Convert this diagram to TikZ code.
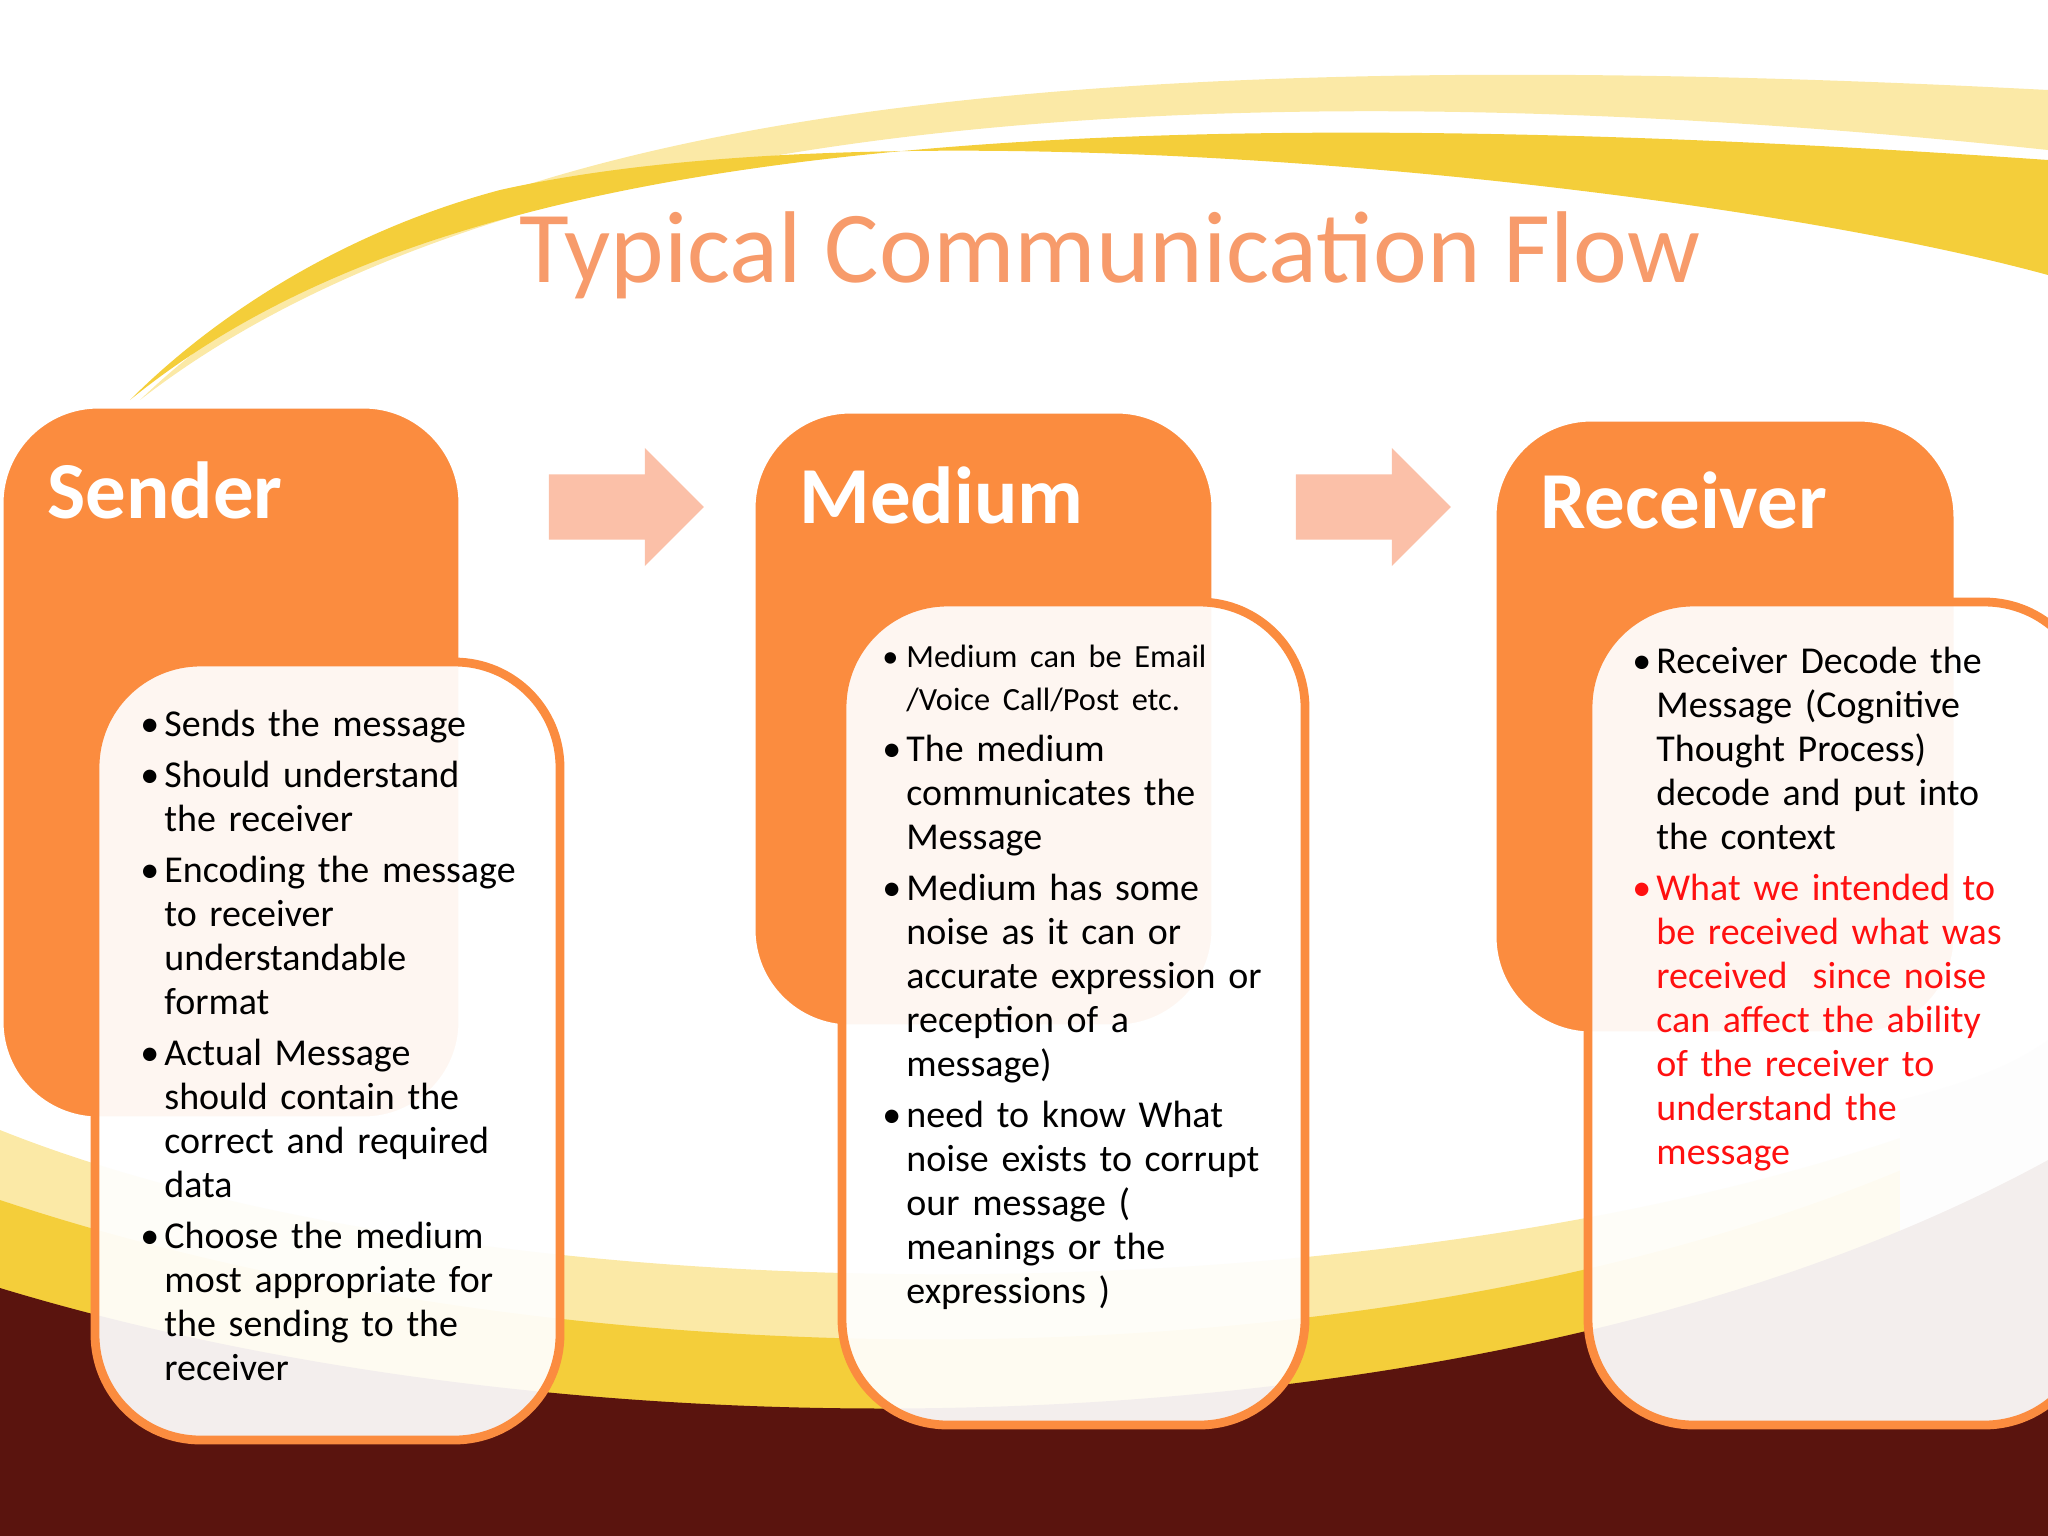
\documentclass[tikz,border=0pt]{standalone}
\usepackage{fontspec}
\setmainfont{Carlito}
\usetikzlibrary{shapes.arrows}
\definecolor{org}{HTML}{FB8C3F}
\definecolor{ttl}{HTML}{F79B6B}
\definecolor{yel}{HTML}{F4CE3A}
\definecolor{lyel}{HTML}{FBE9A6}
\definecolor{dark}{HTML}{5A140E}
\definecolor{arr}{HTML}{FBC0A8}
\definecolor{red}{HTML}{FF1010}
\tikzset{
 obox/.style={fill=org,draw=white,line width=2pt,rounded corners=28pt},
 wbox/.style={fill=white,fill opacity=0.93,draw=org,line width=2.5pt,rounded corners=30pt},
 head/.style={text=white,font=\bfseries\fontsize{23}{27}\selectfont,anchor=west},
 body/.style={anchor=north west,align=left,font=\fontsize{10.8}{12.5}\selectfont},
 parr/.style={single arrow,fill=arr,draw=none,minimum height=1.55cm,minimum width=1.18cm,single arrow head extend=0.1cm,single arrow tip angle=90}
}
\newcommand{\bl}{\hangindent=0.24cm\hangafter=1\noindent\makebox[0.24cm][l]{\textbullet}}
\newcommand{\setpar}{\raggedright\hyphenpenalty=10000\parskip=2pt}
\begin{document}
\begin{tikzpicture}[x=0.01cm,y=-0.01cm]
\useasboundingbox (0,0) rectangle (2048,1536);
% background
\fill[lyel] (140,400) .. controls (400,150) and (900,30) .. (2048,90) -- (2048,150) .. controls (1200,60) and (500,120) .. (140,400) -- cycle;
\fill[yel] (130,400) .. controls (400,180) and (900,80) .. (2048,160) -- (2048,275) .. controls (1700,180) and (900,100) .. (500,190) .. controls (350,230) and (220,310) .. (130,400) -- cycle;
\fill[lyel] (0,1130) .. controls (500,1330) and (1500,1330) .. (2048,1080) -- (2048,1536) -- (0,1536) -- cycle;
\fill[yel] (0,1200) .. controls (600,1400) and (1500,1400) .. (2048,1100) -- (2048,1536) -- (0,1536) -- cycle;
\fill[black!8] (1900,1100) .. controls (1980,1080) and (2020,1060) .. (2048,1040) -- (2048,1250) -- (1900,1250) -- cycle;
\fill[dark] (0,1288) .. controls (600,1470) and (1500,1460) .. (2048,1160) -- (2048,1536) -- (0,1536) -- cycle;
% title
\node[text=ttl,font=\fontsize{29}{34}\selectfont] (title) at (1110,255) {Typical Communication Flow};
% orange boxes
\draw[obox] (0,405) rectangle (462,1120);
\draw[obox] (752,410) rectangle (1215,1028);
\draw[obox] (1493,418) rectangle (1957,1035);
\node[head] (hs) at (35,490) {Sender};
\node[head] (hm) at (787,495) {Medium};
\node[head] (hr) at (1528,500) {Receiver};
% arrows
\node[parr] (a1) at (610,507) {};
\node[parr] (a2) at (1357,507) {};
% white boxes
\draw[wbox] (95,662) rectangle (560,1440);
\draw[wbox] (842,602) rectangle (1305,1425);
\draw[wbox] (1588,602) rectangle (2090,1425);
\node[body,text width=3.9cm] (ts) at (128,698) {\setpar
\bl Sends the message\par
\bl Should understand\newline the receiver\par
\bl Encoding the message\newline to receiver\newline understandable\newline format\par
\bl Actual Message\newline should contain the\newline correct and required\newline data\par
\bl Choose the medium\newline most appropriate for\newline the sending to the\newline receiver\par};
\node[body,text width=3.9cm] (tm) at (870,633) {\setpar
{\fontsize{9.2}{12.1}\selectfont\bl Medium can be Email /Voice Call/Post etc.\par}
\bl The medium communicates the Message\par
\bl Medium has some noise as it can or accurate expression or reception of a message)\par
\bl need to know What noise exists to corrupt our message ( meanings or the expressions )\par};
\node[body,text width=3.85cm] (tr) at (1620,635) {\setpar
\bl Receiver Decode the Message (Cognitive Thought Process) decode and put into the context\par
{\color{red}\bl What we intended to be received what was received\ \ since noise can affect the ability of the receiver to understand the message\par}};
\end{tikzpicture}
\end{document}
